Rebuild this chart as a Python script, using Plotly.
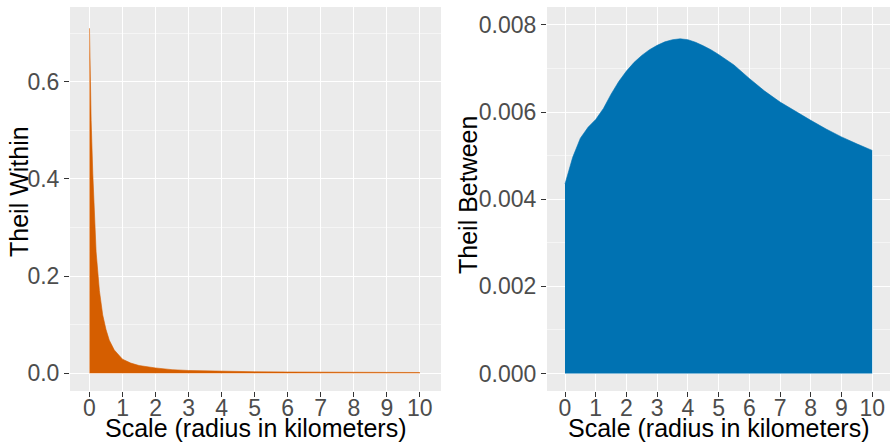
import plotly.graph_objects as go

# ---- data ----
within_scale = [0, 0.01, 0.02, 0.05, 0.1, 0.15, 0.2, 0.3, 0.4, 0.5, 0.6, 0.75,
                1.0, 1.25, 1.5, 2.0, 2.5, 3.0, 3.5, 4.0, 4.5, 5.0, 6.0, 7.0,
                8.0, 9.0, 10.0]
within_theil = [0.71, 0.66, 0.61, 0.52, 0.41, 0.33, 0.25, 0.17, 0.12, 0.09,
                0.068, 0.048, 0.029, 0.021, 0.016, 0.011, 0.0075, 0.0058,
                0.0048, 0.0042, 0.0036, 0.0032, 0.0027, 0.0023, 0.002,
                0.0018, 0.0016]

between_scale = [0, 0.25, 0.5, 0.75, 1.0, 1.25, 1.5, 1.75, 2.0, 2.25, 2.5,
                 2.75, 3.0, 3.25, 3.5, 3.75, 4.0, 4.25, 4.5, 4.75, 5.0, 5.5,
                 6.0, 6.5, 7.0, 7.5, 8.0, 8.5, 9.0, 9.5, 10.0]
between_theil = [0.00435, 0.00496, 0.00540, 0.00565, 0.00583, 0.00608,
                 0.00641, 0.00670, 0.00694, 0.00714, 0.00730, 0.00743,
                 0.00753, 0.00761, 0.00766, 0.00768, 0.00766, 0.00760,
                 0.00752, 0.00743, 0.00732, 0.00708, 0.00677, 0.00648,
                 0.00623, 0.00601, 0.00581, 0.00561, 0.00543, 0.00527,
                 0.00512]

x_ticks = list(range(0, 11))
left_yticks = [0.0, 0.2, 0.4, 0.6]
left_ylabels = ["0.0", "0.2", "0.4", "0.6"]
right_yticks = [0.000, 0.002, 0.004, 0.006, 0.008]
right_ylabels = ["0.000", "0.002", "0.004", "0.006", "0.008"]

ORANGE = "#D55E00"
BLUE = "#0072B2"
W, H = 891, 444
FONT = "Liberation Sans, Arial, sans-serif"

fig = go.Figure()
fig.add_trace(go.Scatter(x=within_scale, y=within_theil, mode="lines",
                         fill="tozeroy", fillcolor=ORANGE,
                         line=dict(color=ORANGE, width=0.6),
                         xaxis="x", yaxis="y", showlegend=False,
                         hoverinfo="skip"))
fig.add_trace(go.Scatter(x=between_scale, y=between_theil, mode="lines",
                         fill="tozeroy", fillcolor=BLUE,
                         line=dict(color=BLUE, width=0.6),
                         xaxis="x2", yaxis="y2", showlegend=False,
                         hoverinfo="skip"))

def px_x(p):
    return p / W

def px_y(p):
    return 1 - p / H

tickfont = dict(family=FONT, size=23, color="#4D4D4D")
common_x = dict(tickmode="array", tickvals=x_ticks,
                ticktext=[str(v) for v in x_ticks], showgrid=True,
                gridcolor="white", gridwidth=1.4, zeroline=False,
                ticks="outside", ticklen=5, tickwidth=1, tickcolor="#333333",
                tickfont=tickfont, showline=False, ticklabelstandoff=-9)
common_y = dict(showgrid=True, gridcolor="white", gridwidth=1.4,
                zeroline=False, ticks="outside", ticklen=5, tickwidth=1,
                tickcolor="#333333", tickfont=tickfont, showline=False)

ydom = [px_y(391), px_y(7)]
fig.update_layout(
    width=W, height=H,
    margin=dict(l=0, r=0, t=0, b=0),
    paper_bgcolor="white", plot_bgcolor="#EBEBEB",
    font=dict(family=FONT),
    xaxis=dict(domain=[px_x(70), px_x(441)], range=[-0.59, 10.64],
               anchor="y", **common_x),
    yaxis=dict(domain=ydom, range=[-0.0364, 0.7537], anchor="x",
               tickmode="array", tickvals=left_yticks, ticktext=left_ylabels,
               minor=dict(dtick=0.1, tick0=0, showgrid=True,
                          gridcolor="#F5F5F5", gridwidth=0.7, ticks=""),
               **common_y),
    xaxis2=dict(domain=[px_x(547), px_x(890)], range=[-0.586, 10.58],
                anchor="y2", **common_x),
    yaxis2=dict(domain=ydom, range=[-0.0004, 0.00841], anchor="x2",
                tickmode="array", tickvals=right_yticks,
                ticktext=right_ylabels,
                minor=dict(dtick=0.001, tick0=0, showgrid=True,
                           gridcolor="#F5F5F5", gridwidth=0.7, ticks=""),
                **common_y),
)

titlefont = dict(family=FONT, size=25, color="black")
ann = [
    dict(text="Scale (radius in kilometers)", x=px_x(255.5), y=px_y(428),
         xanchor="center", yanchor="middle"),
    dict(text="Scale (radius in kilometers)", x=px_x(718.5), y=px_y(428),
         xanchor="center", yanchor="middle"),
    dict(text="Theil Within", x=px_x(19), y=px_y(192), textangle=-90,
         xanchor="center", yanchor="middle"),
    dict(text="Theil Between", x=px_x(468), y=px_y(195), textangle=-90,
         xanchor="center", yanchor="middle"),
]
for a in ann:
    fig.add_annotation(xref="paper", yref="paper", showarrow=False,
                       font=titlefont, **a)

fig.write_html(
    "out.html",
    config={"displayModeBar": False},
    post_script="document.body.style.margin='0';"
                "document.body.style.overflow='hidden';",
)
